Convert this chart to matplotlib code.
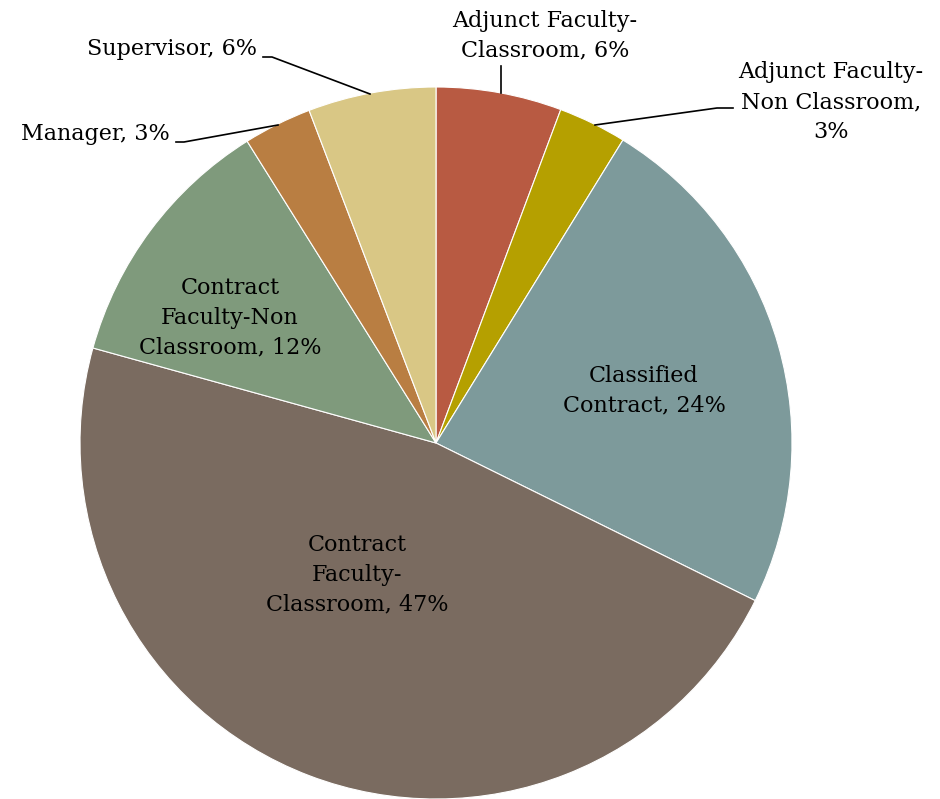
import matplotlib.pyplot as plt

# slice shares, clockwise from 12 o'clock
labels = ['Adjunct Faculty-\nClassroom, 6%',
          'Adjunct Faculty-\nNon Classroom,\n3%',
          'Classified\nContract, 24%',
          'Contract\nFaculty-\nClassroom, 47%',
          'Contract\nFaculty-Non\nClassroom, 12%',
          'Manager, 3%',
          'Supervisor, 6%']
shares = [5.7, 3.1, 23.5, 47.0, 11.8, 3.1, 5.8]
colors = ['#B85A42', '#B5A000', '#7D9A9B', '#7A6B60', '#7F9A7C', '#B97E42', '#D9C785']

W, H = 940, 799
fig = plt.figure(figsize=(W / 100, H / 100), dpi=100)
ax = fig.add_axes([0, 0, 1, 1])

cx, cy, r = 436, 443, 356
# y axis runs downwards, so -90 is 12 o'clock and counterclock looks clockwise
ax.pie(shares, colors=colors, startangle=-90, counterclock=True,
       center=(cx, cy), radius=r, frame=True,
       wedgeprops=dict(edgecolor='white', linewidth=0.8))
ax.set_xlim(0, W)
ax.set_ylim(H, 0)
ax.set_aspect('equal')
ax.axis('off')

font = dict(family='DejaVu Serif', fontsize=16, color='black', linespacing=1.45)

# inside labels
ax.text(644, 391, labels[2], ha='center', va='center', **font)
ax.text(357, 575, labels[3], ha='center', va='center', **font)
ax.text(230, 318, labels[4], ha='center', va='center', **font)

# outside labels with leader lines
ax.text(545, 36, labels[0], ha='center', va='center', **font)
ax.plot([501, 501], [66, 93], color='black', lw=1.2)

ax.text(831, 102, labels[1], ha='center', va='center', **font)
ax.plot([733, 717, 595], [108, 108, 125], color='black', lw=1.2)

ax.text(170, 134, labels[5], ha='right', va='center', **font)
ax.plot([176, 184, 278], [142, 142, 125], color='black', lw=1.2)

ax.text(257, 49, labels[6], ha='right', va='center', **font)
ax.plot([263, 272, 370], [57, 57, 94], color='black', lw=1.2)

fig.savefig('out.png', dpi=100)
